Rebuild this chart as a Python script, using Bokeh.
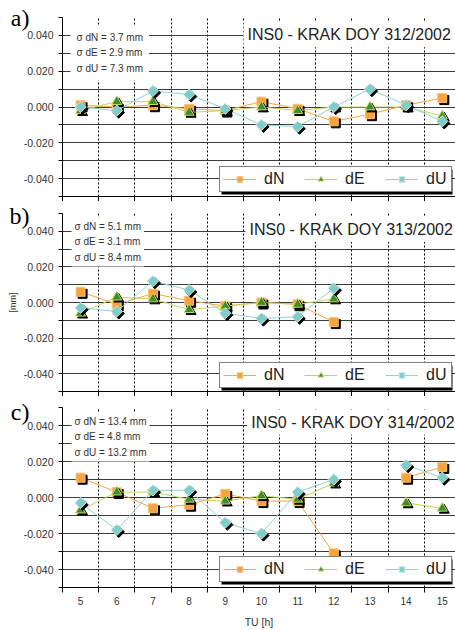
import math
import numpy as np
from bokeh.plotting import figure
from bokeh.models import (Range1d, FixedTicker, PrintfTickFormatter, Label, Legend, LegendItem,
                          LinearAxis, CustomJSTickFormatter, BoxAnnotation)
from bokeh.layouts import column
from bokeh.embed import file_html
from bokeh.resources import INLINE

nan = float("nan")

hours = [5, 6, 7, 8, 9, 10, 11, 12, 13, 14, 15]
hour_bounds = [4.5, 5.5, 6.5, 7.5, 8.5, 9.5, 10.5, 11.5, 12.5, 13.5, 14.5, 15.5]
y_major = [-0.04, -0.02, 0.0, 0.02, 0.04]
y_minor = [-0.05, -0.03, -0.01, 0.01, 0.03, 0.05]
y_grid = [-0.04, -0.03, -0.02, -0.01, 0.0, 0.01, 0.02, 0.03, 0.04]

# panel a) DOY 312
dN_312 = [0.001, 0.000, 0.001, -0.001, -0.002, 0.003, -0.001, -0.008, -0.004, 0.001, 0.005]
dE_312 = [-0.002, 0.003, 0.003, -0.003, -0.002, 0.000, -0.002, 0.000, 0.000, 0.000, -0.005]
dU_312 = [0.000, -0.002, 0.009, 0.007, -0.001, -0.010, -0.011, 0.000, 0.010, 0.001, -0.008]
# panel b) DOY 313
dN_313 = [0.006, -0.001, 0.005, 0.001, -0.002, 0.000, -0.001, -0.011, nan, nan, nan]
dE_313 = [-0.006, 0.003, 0.002, -0.004, -0.002, 0.000, -0.001, 0.002, nan, nan, nan]
dU_313 = [-0.003, -0.005, 0.012, 0.007, -0.006, -0.009, -0.008, 0.008, nan, nan, nan]
# panel c) DOY 314
dN_314 = [0.011, 0.003, -0.006, -0.004, 0.002, -0.002, -0.002, -0.031, nan, 0.011, 0.017]
dE_314 = [-0.007, 0.003, 0.003, -0.001, -0.002, 0.001, -0.001, 0.008, nan, -0.003, -0.006]
dU_314 = [-0.003, -0.018, 0.004, 0.004, -0.014, -0.020, 0.003, 0.010, nan, 0.018, 0.011]

titles = ["INS0 - KRAK DOY 312/2002", "INS0 - KRAK DOY 313/2002", "INS0 - KRAK DOY 314/2002"]
sigma_texts = [
    "\u03c3 dN = 3.7 mm\n\u03c3 dE = 2.9 mm\n\u03c3 dU = 7.3 mm",
    "\u03c3 dN = 5.1 mm\n\u03c3 dE = 3.1 mm\n\u03c3 dU = 8.4 mm",
    "\u03c3 dN = 13.4 mm\n\u03c3 dE = 4.8 mm\n\u03c3 dU = 13.2 mm",
]
panel_tags = ["a)", "b)", "c)"]
y_unit_label = "[mm]"
x_axis_label = "TU [h]"

SANS = "Liberation Sans"
SERIF = "Liberation Serif"

styles = {
    "dN": dict(marker="square", size=9, fill="#F8A33C", edge="#F9C27A", line="#F6A544", angle=0.0),
    "dE": dict(marker="triangle", size=10, fill="#3B8E33", edge="#C8D65A", line="#C4D454", angle=0.0),
    "dU": dict(marker="square", size=8, fill="#7FCDC9", edge="#C4E8E3", line="#8DD3D3", angle=math.pi / 4),
}


def make_panel(idx, series, height, top, bottom, show_x, legend_y, sig_pad, title_xy, sig_xy,
               unit_label=None):
    frame_h = height - top - bottom
    p = figure(width=455, height=height, output_backend="svg", toolbar_location=None,
               x_range=Range1d(4.5, 4.5 + 393 / 36.17), y_range=Range1d(-0.05, 0.05),
               min_border_left=62, min_border_right=0, min_border_top=top, min_border_bottom=bottom)
    p.outline_line_color = None
    p.background_fill_color = "white"
    p.border_fill_color = "white"

    # grids
    p.xgrid.ticker = FixedTicker(ticks=hour_bounds[1:-1])
    p.xgrid.grid_line_color = "black"
    p.xgrid.grid_line_dash = "2 2"
    p.xgrid.grid_line_width = 1
    p.ygrid.ticker = FixedTicker(ticks=y_grid)
    p.ygrid.grid_line_color = "#3a3a3a"
    p.ygrid.grid_line_width = 1

    # y axis
    ya = p.yaxis[0]
    ya.ticker = FixedTicker(ticks=y_major, minor_ticks=y_minor)
    ya.formatter = PrintfTickFormatter(format="%.3f")
    ya.axis_line_color = "black"
    ya.major_tick_line_color = "black"
    ya.minor_tick_line_color = "black"
    ya.major_tick_out = 4
    ya.major_tick_in = 0
    ya.minor_tick_out = 4
    ya.minor_tick_in = 0
    ya.major_label_standoff = 5
    ya.major_label_text_font = SANS
    ya.major_label_text_font_size = "10.5px"
    ya.major_label_text_color = "#333333"

    # panel tag ("a)" ...) as the only label of an extra, line-less left axis
    tag = LinearAxis(ticker=FixedTicker(ticks=[0.05]),
                     formatter=CustomJSTickFormatter(code="return '%s'" % panel_tags[idx]),
                     axis_line_color=None, major_tick_line_color=None, minor_tick_line_color=None,
                     major_tick_out=0, major_tick_in=0, minor_tick_out=0, minor_tick_in=0,
                     major_label_standoff=-9, major_label_text_font=SERIF,
                     major_label_text_font_size="24px", major_label_text_color="black")
    if unit_label:
        tag.axis_label = unit_label
        tag.axis_label_text_font = SANS
        tag.axis_label_text_font_size = "9px"
        tag.axis_label_text_font_style = "normal"
        tag.axis_label_text_color = "#333333"
        tag.axis_label_standoff = -11
    p.add_layout(tag, "left")

    # x axis
    xa = p.xaxis[0]
    xa.axis_line_color = "black"
    xa.major_tick_out = 0
    xa.major_tick_in = 0
    xa.minor_tick_out = 5
    xa.minor_tick_in = 0
    xa.minor_tick_line_color = "black"
    xa.major_label_text_font = SANS
    xa.major_label_text_color = "#333333"
    if show_x:
        xa.ticker = FixedTicker(ticks=hours, minor_ticks=hour_bounds)
        xa.major_label_text_font_size = "10px"
        xa.major_label_standoff = 4
        xa.axis_label = x_axis_label
        xa.axis_label_text_font = SANS
        xa.axis_label_text_font_size = "10.5px"
        xa.axis_label_text_font_style = "normal"
        xa.axis_label_text_color = "#333333"
        xa.axis_label_standoff = 8
    else:
        xa.ticker = FixedTicker(ticks=[], minor_ticks=hour_bounds)
        xa.major_label_standoff = 0

    x = np.array(hours, dtype=float)
    dx = 2 / 36.17
    dy = 0.1 * 2 / frame_h
    items = []
    for name, vals in series:
        st = styles[name]
        y = np.array(vals, dtype=float)
        lr = p.line(x, y, line_color=st["line"], line_width=1)
        p.scatter(x + dx, y - dy, marker=st["marker"], size=st["size"], angle=st["angle"],
                  fill_color="black", line_color="black")
        sr = p.scatter(x, y, marker=st["marker"], size=st["size"], angle=st["angle"],
                       fill_color=st["fill"], line_color=st["edge"], line_width=1)
        items.append(LegendItem(label=name, renderers=[lr, sr]))

    lx = 157
    leg_w, leg_h = 231, 25
    p.add_layout(BoxAnnotation(left=lx + 2, right=lx + leg_w + 2, bottom=legend_y - 2,
                               top=legend_y + leg_h - 2, left_units="screen", right_units="screen",
                               bottom_units="screen", top_units="screen", fill_color="black",
                               fill_alpha=1.0, line_color=None))
    leg = Legend(items=items, orientation="horizontal", location=(lx, legend_y),
                 border_line_color="black", border_line_width=1, padding=3, spacing=18,
                 glyph_width=33, glyph_height=14, label_height=14, label_width=22,
                 label_standoff=8, label_text_font=SANS, label_text_font_size="16px",
                 label_text_color="#222222", background_fill_color="white",
                 background_fill_alpha=1.0, margin=0)
    p.add_layout(leg, "center")

    p.add_layout(Label(x=sig_xy[0], y=sig_xy[1], x_units="screen", y_units="screen",
                       text=sigma_texts[idx], text_font=SANS, text_font_size="10px",
                       text_color="#333333", text_baseline="top", text_align="left",
                       text_line_height=1.45, background_fill_color="white",
                       padding=sig_pad))
    p.add_layout(Label(x=title_xy[0], y=title_xy[1], x_units="screen", y_units="screen",
                       text=titles[idx], text_font=SANS, text_font_size="16px",
                       text_color="#222222", text_baseline="middle", text_align="left",
                       background_fill_color="white", padding=4))
    return p


pa = make_panel(0, [("dN", dN_312), ("dE", dE_312), ("dU", dU_312)], 201, 17, 5, False, 4, 6,
                (181, 161.7), (8, 171))
pb = make_panel(1, [("dN", dN_313), ("dE", dE_313), ("dU", dU_313)], 195, 12, 4, False, 3, 3,
                (183, 162), (9, 174), unit_label=y_unit_label)
pc = make_panel(2, [("dN", dN_314), ("dE", dE_314), ("dU", dU_314)], 234, 11, 42, True, 5, 3,
                (184.7, 165.3), (9, 175))

layout = column(pa, pb, pc, spacing=0)
open("out.html", "w").write(file_html(layout, INLINE))
